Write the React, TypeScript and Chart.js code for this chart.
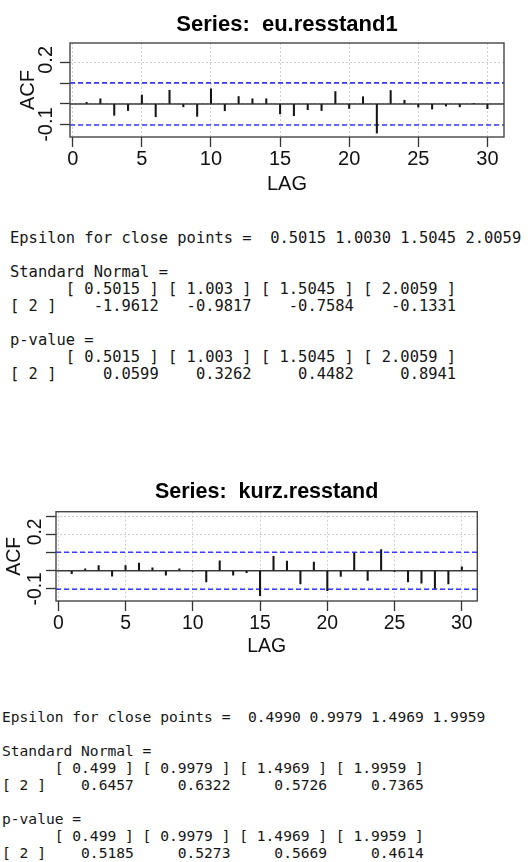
import { useEffect, useRef } from "react";
import { Chart, registerables } from "chart.js";

Chart.register(...registerables);

// Lags shown on both correlograms
const lags = [1, 2, 3, 4, 5, 6, 7, 8, 9, 10, 11, 12, 13, 14, 15, 16, 17, 18, 19, 20, 21, 22, 23, 24, 25, 26, 27, 28, 29, 30];

// Sample autocorrelations of the standardised residuals
const euAcf = [
  0.008, 0.025, -0.055, -0.032, 0.043, -0.062, 0.066, -0.014, -0.06, 0.073,
  -0.033, 0.036, 0.025, 0.025, -0.048, -0.057, -0.028, -0.032, 0.06, -0.022,
  0.035, -0.141, 0.065, 0.018, -0.015, -0.025, -0.01, -0.014, 0.002, -0.023,
];
const kurzAcf = [
  -0.016, 0.01, 0.028, -0.03, 0.028, 0.042, 0.016, -0.024, 0.011, -0.004,
  -0.061, 0.055, -0.024, -0.011, -0.138, 0.079, 0.054, -0.073, 0.048, -0.11,
  -0.031, 0.098, -0.054, 0.117, -0.004, -0.061, -0.069, -0.098, -0.073, 0.022,
];

// Approximate 95% white-noise bounds
const euBound = 0.102;
const kurzBound = 0.102;

// Tick labels printed on the ACF axis
const acfTickLabels = [0.2, -0.1];

// BDS test output (epsilon values, statistics, p-values)
const euEpsilon = ["0.5015", "1.0030", "1.5045", "2.0059"];
const euEpsilonCols = ["0.5015", "1.003", "1.5045", "2.0059"];
const euNormal = ["-1.9612", "-0.9817", "-0.7584", "-0.1331"];
const euPValue = ["0.0599", "0.3262", "0.4482", "0.8941"];

const kurzEpsilon = ["0.4990", "0.9979", "1.4969", "1.9959"];
const kurzEpsilonCols = ["0.499", "0.9979", "1.4969", "1.9959"];
const kurzNormal = ["0.6457", "0.6322", "0.5726", "0.7365"];
const kurzPValue = ["0.5185", "0.5273", "0.5669", "0.4614"];

const SANS = "'Liberation Sans', Arial, sans-serif";
const MONO = "'DejaVu Sans Mono', 'Liberation Mono', monospace";
const BLUE = "#3b3bff";
const GRID = "#cfcfcf";
const AXIS = "#333333";

type PlotSpec = {
  title: string;
  acf: number[];
  bound: number;
  top: number;
  height: number;
  xMin: number;
  xMax: number;
  yMin: number;
  yMax: number;
  padRight: number;
  yAxisWidth: number;
  xAxisHeight: number;
  titleSize: number;
  titlePadTop: number;
  titlePadBottom: number;
  tickSize: number;
  xTickPad: number;
  yTickPad: number;
  lagPadBottom: number;
  acfPadTop: number;
};

const plots: PlotSpec[] = [
  {
    title: "Series:  eu.resstand1",
    acf: euAcf,
    bound: euBound,
    top: 0,
    height: 200,
    xMin: -0.2,
    xMax: 31.2,
    yMin: -0.16,
    yMax: 0.295,
    padRight: 24,
    yAxisWidth: 70,
    xAxisHeight: 63,
    titleSize: 22,
    titlePadTop: 11.8,
    titlePadBottom: 4.8,
    tickSize: 20,
    xTickPad: 0,
    yTickPad: -3.5,
    lagPadBottom: 4,
    acfPadTop: 16,
  },
  {
    title: "Series:  kurz.resstand",
    acf: kurzAcf,
    bound: kurzBound,
    top: 465,
    height: 200,
    xMin: -0.17,
    xMax: 31.15,
    yMin: -0.167,
    yMax: 0.326,
    padRight: 50.7,
    yAxisWidth: 56,
    xAxisHeight: 64,
    titleSize: 21.5,
    titlePadTop: 13.8,
    titlePadBottom: 7.1,
    tickSize: 19.4,
    xTickPad: 1.5,
    yTickPad: -6.4,
    lagPadBottom: 6.7,
    acfPadTop: 3.4,
  },
];

// Frame around the plotting region, as in base R graphics
const boxPlugin = {
  id: "plotBox",
  afterDatasetsDraw(chart: any) {
    const { ctx, chartArea: a } = chart;
    ctx.save();
    ctx.strokeStyle = "#474747";
    ctx.lineWidth = 1.4;
    ctx.strokeRect(a.left, a.top, a.right - a.left, a.bottom - a.top);
    ctx.restore();
  },
};

function AcfPlot({ spec }: { spec: PlotSpec }) {
  const ref = useRef<HTMLCanvasElement | null>(null);

  useEffect(() => {
    if (!ref.current) return;
    const s = spec;
    const hline = (y: number) => [
      { x: s.xMin, y },
      { x: s.xMax, y },
    ];
    const tickFont = { family: SANS, size: s.tickSize };
    const chart = new Chart(ref.current, {
      type: "bar",
      data: {
        datasets: [
          {
            type: "line",
            data: hline(s.bound),
            borderColor: BLUE,
            borderWidth: 1.6,
            borderDash: [5, 3],
            pointRadius: 0,
            order: 3,
          },
          {
            type: "line",
            data: hline(-s.bound),
            borderColor: BLUE,
            borderWidth: 1.6,
            borderDash: [5, 3],
            pointRadius: 0,
            order: 3,
          },
          {
            type: "line",
            data: hline(0),
            borderColor: "#3a3a3a",
            borderWidth: 1.4,
            pointRadius: 0,
            order: 2,
          },
          {
            type: "bar",
            data: lags.map((l, i) => ({ x: l, y: s.acf[i] })),
            backgroundColor: "#151515",
            barThickness: 1.4,
            order: 1,
          },
        ],
      } as any,
      options: {
        responsive: false,
        animation: false,
        devicePixelRatio: 1,
        layout: { padding: { top: 0, left: 0, right: s.padRight, bottom: 0 } },
        plugins: {
          legend: { display: false },
          tooltip: { enabled: false },
          title: {
            display: true,
            text: s.title,
            fullSize: false,
            color: "#000",
            font: { family: SANS, size: s.titleSize, weight: "bold" },
            padding: { top: s.titlePadTop, bottom: s.titlePadBottom },
          },
        },
        scales: {
          x: {
            type: "linear",
            min: s.xMin,
            max: s.xMax,
            offset: false,
            afterFit: (sc: any) => {
              sc.height = s.xAxisHeight;
            },
            grid: {
              offset: false,
              color: GRID,
              lineWidth: 1,
              drawTicks: true,
              tickLength: 10,
              tickColor: AXIS,
              tickWidth: 1.3,
            },
            border: { display: false, dash: [2, 2] },
            ticks: {
              stepSize: 5,
              includeBounds: false,
              autoSkip: false,
              minRotation: 0,
              maxRotation: 0,
              padding: s.xTickPad,
              color: "#111",
              font: tickFont,
            },
            title: {
              display: true,
              text: "LAG",
              color: "#111",
              font: tickFont,
              padding: { top: 0, bottom: s.lagPadBottom },
            },
          },
          y: {
            type: "linear",
            min: s.yMin,
            max: s.yMax,
            afterFit: (sc: any) => {
              sc.width = s.yAxisWidth;
            },
            grid: {
              color: GRID,
              lineWidth: 1,
              drawTicks: true,
              tickLength: 10,
              tickColor: AXIS,
              tickWidth: 1.3,
            },
            border: { display: false, dash: [2, 2] },
            ticks: {
              stepSize: 0.1,
              includeBounds: false,
              autoSkip: false,
              minRotation: 90,
              maxRotation: 90,
              crossAlign: "center",
              padding: s.yTickPad,
              color: "#111",
              font: tickFont,
              callback: (v: any) => {
                const n = Number(v);
                if (!acfTickLabels.some((t) => Math.abs(t - n) < 1e-6)) return "";
                // the upper label sits a little above its tick
                return n > 0 ? " " + n.toFixed(1) : n.toFixed(1);
              },
            },
            title: {
              display: true,
              text: "ACF",
              color: "#111",
              font: tickFont,
              padding: { top: s.acfPadTop, bottom: 0 },
            },
          },
        },
      } as any,
      plugins: [boxPlugin],
    });
    return () => chart.destroy();
  }, [spec]);

  return (
    <canvas
      ref={ref}
      width={528}
      height={spec.height}
      style={{ position: "absolute", left: 0, top: spec.top, width: 528, height: spec.height }}
    />
  );
}

// Lay out a BDS result block the way R prints a one-row matrix
function bdsLines(eps: string[], cols: string[], normal: string[], pval: string[]): string[] {
  const heads = cols.map((c) => `[ ${c} ]`);
  const header = "     " + heads.map((h) => " " + h).join("");
  const row = (vals: string[]) =>
    "[ 2 ]" + vals.map((v, i) => " " + v.padStart(Math.max(heads[i].length, v.length))).join("");
  return [
    "Epsilon for close points =  " + eps.join(" "),
    "",
    "Standard Normal = ",
    header,
    row(normal),
    "",
    "p-value = ",
    header,
    row(pval),
  ];
}

function Output({ lines, left, top, size }: { lines: string[]; left: number; top: number; size: number }) {
  return (
    <pre
      style={{
        position: "absolute",
        left,
        top,
        margin: 0,
        fontFamily: MONO,
        fontSize: size,
        lineHeight: "17.1px",
        color: "#161616",
        whiteSpace: "pre",
      }}
    >
      {lines.join("\n")}
    </pre>
  );
}

export default function App() {
  return (
    <div style={{ position: "absolute", left: 0, top: 0, width: 528, height: 862, background: "#fff", overflow: "hidden" }}>
      <AcfPlot spec={plots[0]} />
      <Output lines={bdsLines(euEpsilon, euEpsilonCols, euNormal, euPValue)} left={10} top={229.5} size={15.45} />
      <AcfPlot spec={plots[1]} />
      <Output lines={bdsLines(kurzEpsilon, kurzEpsilonCols, kurzNormal, kurzPValue)} left={2} top={707.5} size={14.6} />
    </div>
  );
}
